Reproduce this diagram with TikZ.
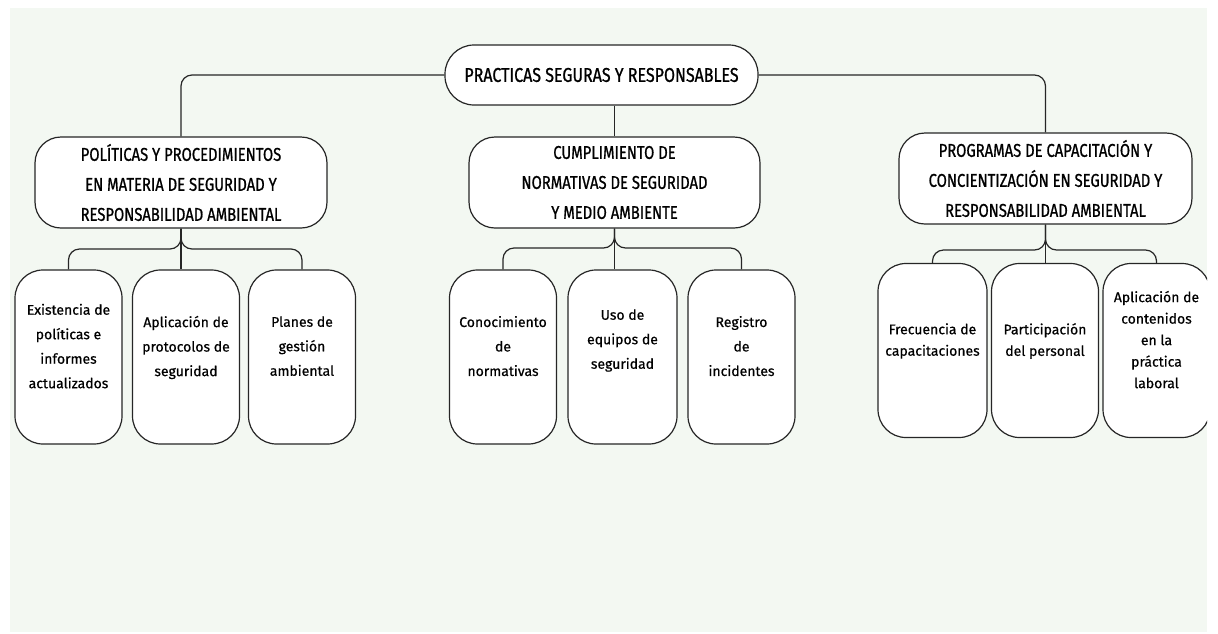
\documentclass[tikz,border=0pt]{standalone}
\usepackage{fontspec}
\setmainfont{Fira Sans}[FakeBold=0.5]
\newfontfamily\hdfont[FakeStretch=0.8,FakeBold=0.9]{Fira Sans}
\usetikzlibrary{positioning,calc}
\definecolor{paper}{HTML}{F3F8F2}
\definecolor{ink}{HTML}{262626}

\begin{document}
\begin{tikzpicture}[x=1pt,y=-1pt]
\tikzset{box/.style={draw=ink, fill=white, line width=1.2pt, inner sep=0pt, align=center}}
\tikzstyle{head} = [box, rounded corners=26pt, minimum height=91pt, font=\hdfont\fontsize{18.5}{30}\selectfont]
\tikzstyle{leaf} = [box, rounded corners=28pt, minimum width=107pt, minimum height=174pt, text depth=22pt, font=\fontsize{14}{24.5}\selectfont]
\tikzstyle{leafr} = [leaf, font=\fontsize{14}{21.5}\selectfont]
\tikzstyle{link} = [draw=ink, line width=1.2pt, rounded corners=11pt]
\useasboundingbox (0,0) rectangle (1218,633);
\fill[paper] (10,8) rectangle (1207,632);
\begin{scope}
\clip (10,8) rectangle (1207,632);
\node[head, minimum width=313pt, minimum height=60pt, rounded corners=29pt, font=\hdfont\fontsize{20}{30}\selectfont] (root) at (601.5,75) {PRACTICAS SEGURAS Y RESPONSABLES};
\node[head, minimum width=292pt] (c1) at (181,182.5) {POLÍTICAS Y PROCEDIMIENTOS\\EN MATERIA DE SEGURIDAD Y\\RESPONSABILIDAD AMBIENTAL};
\node[head, minimum width=291pt] (c2) at (614.5,182.5) {CUMPLIMIENTO DE\\NORMATIVAS DE SEGURIDAD\\Y MEDIO AMBIENTE};
\node[head, minimum width=293pt] (c3) at (1045.5,178.5) {PROGRAMAS DE CAPACITACIÓN Y\\CONCIENTIZACIÓN EN SEGURIDAD Y\\RESPONSABILIDAD AMBIENTAL};

\node[leaf] (g1) at (68.5,357) {Existencia de\\políticas e\\informes\\actualizados};
\node[leaf] (g2) at (186,357) {Aplicación de\\protocolos de\\seguridad};
\node[leaf] (g3) at (302,357) {Planes de\\gestión\\ambiental};
\node[leaf] (g4) at (503,357) {Conocimiento\\de\\normativas};
\node[leaf, minimum width=109pt, text depth=36pt] (g5) at (622.5,357) {Uso de\\equipos de\\seguridad};
\node[leaf] (g6) at (741.5,357) {Registro\\de\\incidentes};
\node[leafr, minimum width=109pt] (g7) at (932.5,350.5) {Frecuencia de\\capacitaciones};
\node[leafr] (g8) at (1045,350.5) {Participación\\del personal};
\node[leafr] (g9) at (1156.5,350.5) {Aplicación de\\contenidos\\en la\\práctica\\laboral};

\coordinate (k1) at (181,249);
\coordinate (k2) at (614.5,248);
\coordinate (k3) at (1045.5,250);

\draw[link] (root.west) -| (c1.north);
\draw[link] (root.east) -| (c3.north);
\draw[link] (root.south -| c2.north) -- (c2.north);

\draw[link] (c1.south) |- (g1.north |- k1) -- (g1.north);
\draw[link] (c1.south) |- (g3.north |- k1) -- (g3.north);
\draw[link] (c1.south) -- (c1.south |- g2.north);

\draw[link] (c2.south) |- (g4.north |- k2) -- (g4.north);
\draw[link] (c2.south) |- (g6.north |- k2) -- (g6.north);
\draw[link] (c2.south) -- (c2.south |- g5.north);

\draw[link] (c3.south) |- (g7.north |- k3) -- (g7.north);
\draw[link] (c3.south) |- (g9.north |- k3) -- (g9.north);
\draw[link] (c3.south) -- (c3.south |- g8.north);
\end{scope}
\end{tikzpicture}
\end{document}
